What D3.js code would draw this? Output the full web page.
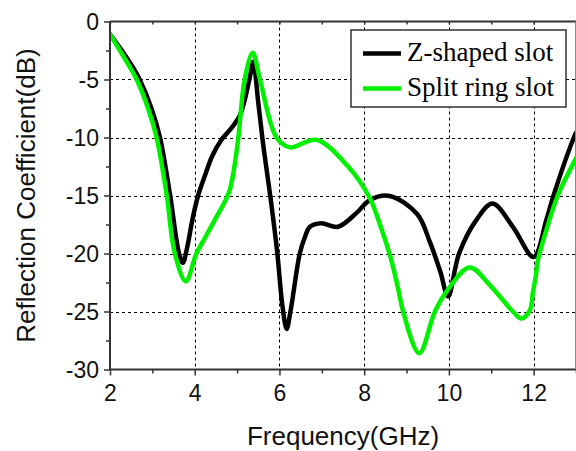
<!DOCTYPE html>
<html>
<head>
<meta charset="utf-8">
<script src="https://cdn.jsdelivr.net/npm/d3@7"></script>
<style>
    body { margin: 0; background: #fff; }
    .tick-label { font-family: "Liberation Sans", Arial, sans-serif; font-size: 23px; fill: #111; }
    .axis-title { font-family: "Liberation Sans", Arial, sans-serif; font-size: 26px; fill: #111; }
    .legend-text { font-family: "Liberation Serif", "Times New Roman", serif; font-size: 27px; fill: #000; }
</style>
</head>
<body>
<div class="curr-graff"></div>
<script>
// Data (frequency in GHz, reflection coefficient in dB)
const freqZ = [2.00, 2.30, 2.55, 2.70, 2.98, 3.18, 3.42, 3.63, 3.72, 3.82, 3.95, 4.08, 4.25, 4.40, 4.63, 4.83,
    5.07, 5.29, 5.38, 5.50, 5.63, 5.80, 5.95, 6.07, 6.17, 6.26, 6.48, 6.60, 6.72, 6.99, 7.38, 7.82, 8.13,
    8.60, 9.25, 9.55, 9.80, 9.98, 10.24, 10.65, 11.03, 11.51, 12.00, 12.30, 12.47, 12.95, 13.00];
const s11Z = [-1.1, -2.6, -4.0, -5.0, -7.5, -10.0, -15.0, -20.0, -20.8, -19.5, -17.0, -15.0, -13.2, -11.7, -10.2, -9.35,
    -8.06, -5.0, -3.47, -7.0, -11.0, -15.5, -20.0, -24.5, -26.5, -25.0, -20.0, -18.6, -17.7, -17.4, -17.7, -16.5, -15.4,
    -15.04, -16.6, -19.0, -21.6, -23.7, -20.0, -17.1, -15.7, -17.7, -20.3, -17.1, -15.0, -10.0, -9.6];

const freqSR = [2.00, 2.25, 2.48, 2.63, 2.90, 3.10, 3.34, 3.53, 3.79, 4.04, 4.25, 4.52, 4.70, 4.82, 4.91, 5.03,
    5.18, 5.37, 5.54, 5.93, 6.25, 6.87, 7.62, 8.13, 8.40, 8.62, 8.80, 8.92, 9.30, 9.67, 9.98, 10.49, 10.96,
    11.51, 11.71, 11.91, 11.98, 12.05, 12.10, 12.30, 12.57, 13.00];
const s11SR = [-1.1, -2.6, -4.0, -5.0, -7.5, -10.0, -15.0, -20.0, -22.4, -20.0, -18.6, -16.8, -15.6, -14.6, -13.1, -10.0,
    -5.0, -2.7, -5.0, -10.0, -10.85, -10.2, -12.5, -15.2, -17.8, -20.3, -23.0, -25.0, -28.6, -25.0, -23.1, -21.2, -22.7,
    -25.0, -25.6, -24.9, -23.4, -22.0, -20.6, -18.0, -15.0, -11.8];

const seriesNames = ["Z-shaped slot", "Split ring slot"];
const seriesColors = ["#000000", "#00f000"];

const xTicks = [2, 4, 6, 8, 10, 12];
const xMinorTicks = [3, 5, 7, 9, 11, 13];
const yTicks = [0, -5, -10, -15, -20, -25, -30];
const yMinorTicks = [-2.5, -7.5, -12.5, -17.5, -22.5, -27.5];

// Draws the whole chart
function DrawChart() {
    let width = 576;
    let height = 451;
    let left = 110, right = 576, top = 21.5, bottom = 369.5;

    let svg = d3.select(".curr-graff")
        .append("svg")
        .attr("width", width)
        .attr("height", height);

    // scaling functions
    let scaleX = d3.scaleLinear().domain([2, 13]).range([left, right]);
    let scaleY = d3.scaleLinear().domain([-30, 0]).range([bottom, top]);

    // Dashed grid lines
    let grid = svg.append("g");
    grid.selectAll(".gx")
        .data(xTicks.filter(d => d > 2))
        .enter().append("line")
        .attr("x1", d => Math.round(scaleX(d)) + 0.5)
        .attr("x2", d => Math.round(scaleX(d)) + 0.5)
        .attr("y1", top).attr("y2", bottom)
        .attr("stroke", "#000").attr("stroke-width", 1).attr("stroke-dasharray", "3,3");
    grid.selectAll(".gy")
        .data(yTicks.filter(d => d < 0 && d > -30))
        .enter().append("line")
        .attr("y1", d => Math.round(scaleY(d)) + 0.5)
        .attr("y2", d => Math.round(scaleY(d)) + 0.5)
        .attr("x1", left).attr("x2", right)
        .attr("stroke", "#000").attr("stroke-width", 1).attr("stroke-dasharray", "3,3");

    // Curves, clipped to the plot area
    svg.append("clipPath").attr("id", "plot-clip")
        .append("rect")
        .attr("x", left).attr("y", top - 5)
        .attr("width", right - left).attr("height", bottom - top + 5);

    let line = d3.line()
        .x(d => scaleX(d[0]))
        .y(d => scaleY(d[1]))
        .curve(d3.curveCatmullRom.alpha(0.5));

    let series = [
        d3.zip(freqZ, s11Z),
        d3.zip(freqSR, s11SR)
    ];

    let curves = svg.append("g").attr("clip-path", "url(#plot-clip)");
    // green is drawn on top of black
    [0, 1].forEach(function(i) {
        curves.append("path")
            .datum(series[i])
            .attr("fill", "none")
            .attr("stroke", seriesColors[i])
            .attr("stroke-width", 4.5)
            .attr("stroke-linejoin", "round")
            .attr("stroke-linecap", "round")
            .attr("d", line);
    });

    // Axes
    let axisColor = "#333";
    let plainNum = d => String(d); // keep the hyphen minus like the original

    let axisX = d3.axisBottom(scaleX).tickValues(xTicks).tickSize(6).tickPadding(9).tickFormat(plainNum);
    let gx = svg.append("g")
        .attr("transform", `translate(0, ${bottom})`)
        .call(axisX);
    gx.selectAll(".tick line").attr("stroke", axisColor).attr("stroke-width", 1.5);
    gx.selectAll("text").attr("class", "tick-label").attr("fill", null);
    gx.select(".domain").remove();

    let minorX = d3.axisBottom(scaleX).tickValues(xMinorTicks).tickSize(4).tickFormat("");
    let gmx = svg.append("g").attr("transform", `translate(0, ${bottom})`).call(minorX);
    gmx.selectAll(".tick line").attr("stroke", axisColor).attr("stroke-width", 1.5);
    gmx.select(".domain").remove();

    let axisY = d3.axisLeft(scaleY).tickValues(yTicks).tickSize(6).tickPadding(5).tickFormat(plainNum);
    let gy = svg.append("g")
        .attr("transform", `translate(${left}, 0)`)
        .call(axisY);
    gy.selectAll(".tick line").attr("stroke", axisColor).attr("stroke-width", 1.5);
    gy.selectAll("text").attr("class", "tick-label").attr("fill", null).attr("dy", "0.36em");
    gy.select(".domain").remove();

    let minorY = d3.axisLeft(scaleY).tickValues(yMinorTicks).tickSize(4).tickFormat("");
    let gmy = svg.append("g").attr("transform", `translate(${left}, 0)`).call(minorY);
    gmy.selectAll(".tick line").attr("stroke", axisColor).attr("stroke-width", 1.5);
    gmy.select(".domain").remove();

    // Top ticks (pointing inside)
    let topAxis = d3.axisTop(scaleX).tickValues(xTicks.concat(xMinorTicks)).tickSize(-3).tickFormat("");
    let gt = svg.append("g").attr("transform", `translate(0, ${top})`).call(topAxis);
    gt.selectAll(".tick line").attr("stroke", axisColor).attr("stroke-width", 1.5);
    gt.select(".domain").remove();

    // Frame
    svg.append("line").attr("x1", left).attr("x2", right).attr("y1", bottom).attr("y2", bottom)
        .attr("stroke", axisColor).attr("stroke-width", 2);
    svg.append("line").attr("x1", left).attr("x2", right).attr("y1", top).attr("y2", top)
        .attr("stroke", axisColor).attr("stroke-width", 2);
    svg.append("line").attr("x1", left).attr("x2", left).attr("y1", top).attr("y2", bottom)
        .attr("stroke", axisColor).attr("stroke-width", 2);
    svg.append("line").attr("x1", right - 0.5).attr("x2", right - 0.5).attr("y1", top).attr("y2", bottom)
        .attr("stroke", "#888").attr("stroke-width", 1);

    // Axis titles
    svg.append("text")
        .attr("class", "axis-title")
        .attr("x", (left + right) / 2)
        .attr("y", 445)
        .attr("text-anchor", "middle")
        .text("Frequency(GHz)");

    svg.append("text")
        .attr("class", "axis-title")
        .attr("transform", `translate(35, ${(top + bottom) / 2}) rotate(-90)`)
        .attr("text-anchor", "middle")
        .text("Reflection Coefficient(dB)");

    // Legend
    let legend = svg.append("g");
    legend.append("rect")
        .attr("x", 351).attr("y", 30)
        .attr("width", 215).attr("height", 77)
        .attr("fill", "#fff")
        .attr("stroke", axisColor).attr("stroke-width", 1.5);

    let rowY = [53.5, 88.5];
    seriesNames.forEach(function(name, i) {
        legend.append("line")
            .attr("x1", 363).attr("x2", 401)
            .attr("y1", rowY[i]).attr("y2", rowY[i])
            .attr("stroke", seriesColors[i])
            .attr("stroke-width", 4.5);
        legend.append("text")
            .attr("class", "legend-text")
            .attr("x", 407)
            .attr("y", rowY[i] + 7.5)
            .text(name);
    });
}

DrawChart();
</script>
</body>
</html>
